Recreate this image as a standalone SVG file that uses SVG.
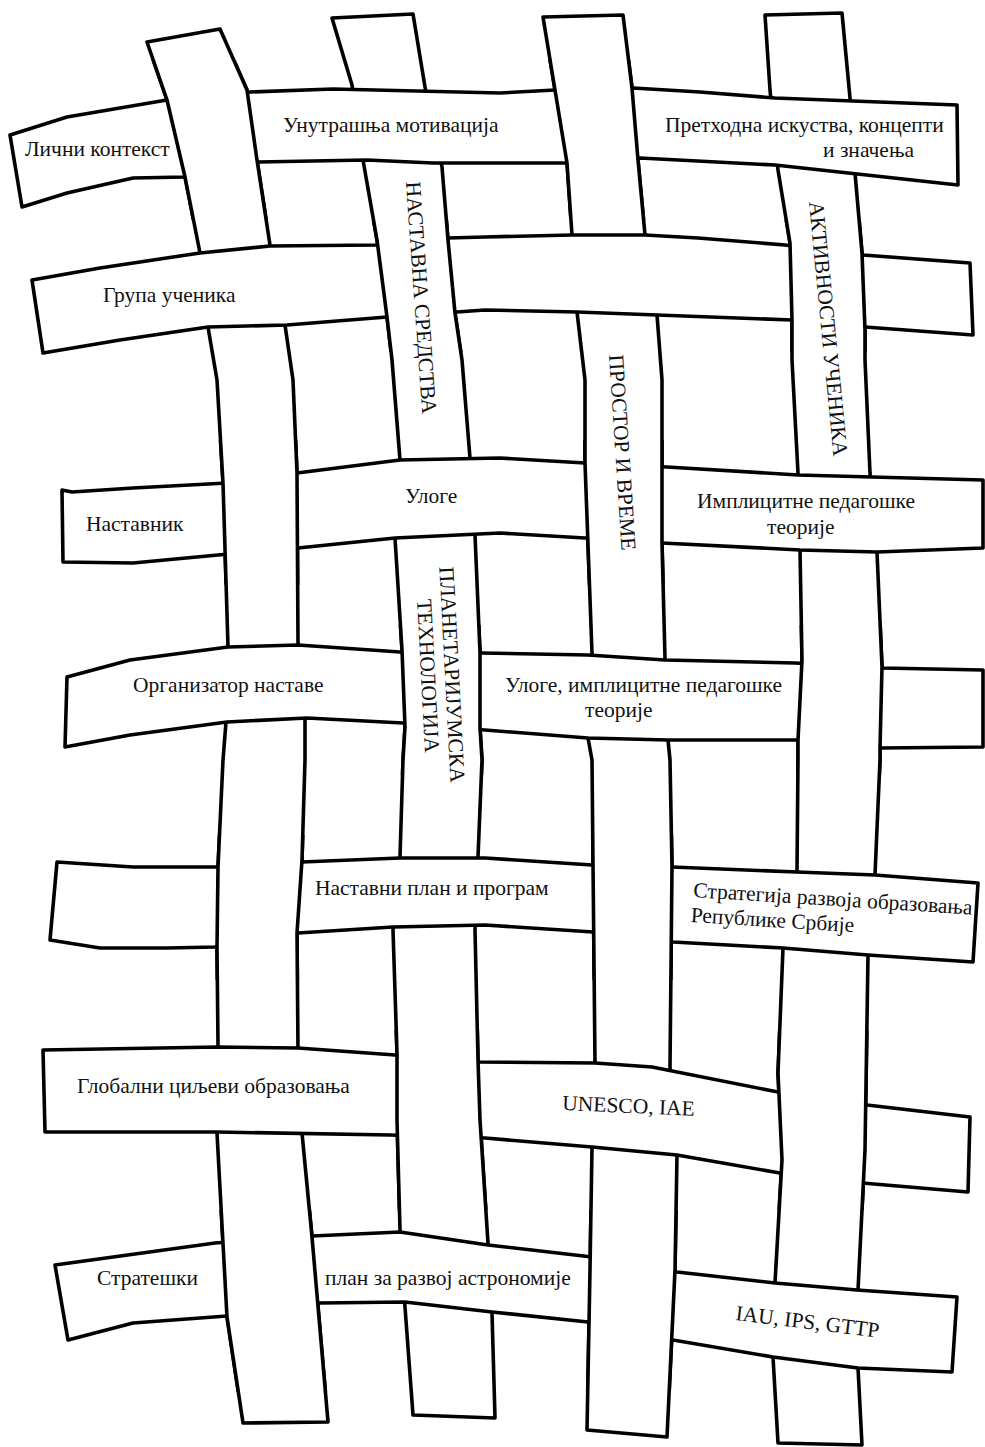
<svg xmlns="http://www.w3.org/2000/svg" xmlns:xlink="http://www.w3.org/1999/xlink" width="985" height="1447" viewBox="0 0 985 1447">
<style>
.strip{fill:#fff;stroke:#000;stroke-width:3.6;stroke-linejoin:round;stroke-linecap:round}
.lbl{font-family:"Liberation Serif","Times New Roman",serif;font-size:21.5px;fill:#111}
.vl{font-family:"Liberation Serif","Times New Roman",serif;font-size:21.5px;fill:#111}
</style>
<defs>
<polygon id="v1" class="strip" points="147,42 167,100 185,177 200,253 208,327 217,380 223,483 228,647 226,722 223,760 218,867 217,947 218,1045 217,1133 227,1317 243,1423 328,1422 312,1237 302,1133 298,1050 297,933 302,860 305,760 305,718 298,643 297,473 293,380 285,325 270,245 257,160 247,90 220,29"/>
<polygon id="v2" class="strip" points="332,18 352,85 363,160 377,240 387,317 392,360 400,460 395,538 402,650 405,727 403,760 400,857 393,930 397,1053 397,1120 400,1230 405,1307 413,1415 495,1418 492,1313 488,1243 480,1120 478,1060 475,930 478,857 482,760 480,728 480,653 475,535 470,458 462,360 455,313 448,240 442,167 425,87 413,14"/>
<polygon id="v3" class="strip" points="543,17 555,90 567,163 572,235 577,312 585,380 585,463 592,653 588,738 592,760 593,863 595,1063 592,1147 590,1270 587,1430 667,1437 675,1270 677,1155 670,1067 672,867 670,760 668,740 665,658 662,543 662,380 657,315 645,235 638,160 632,88 623,15"/>
<polygon id="v4" class="strip" points="765,15 770,90 778,170 790,243 792,320 792,360 798,473 800,550 802,660 798,740 798,760 797,870 783,948 778,1073 782,1160 775,1283 773,1357 778,1443 862,1445 858,1368 858,1290 865,1150 868,955 875,875 880,760 880,748 882,667 877,552 870,473 865,360 865,330 862,253 855,173 850,98 842,13"/>
<clipPath id="oddRows">
<rect x="0" y="60" width="985" height="160"/>
<rect x="0" y="440" width="985" height="145"/>
<rect x="0" y="835" width="985" height="145"/>
<rect x="0" y="1210" width="985" height="182"/>
</clipPath>
<clipPath id="evenRows">
<rect x="0" y="220" width="985" height="132"/>
<rect x="0" y="625" width="985" height="150"/>
<rect x="0" y="1030" width="985" height="180"/>
</clipPath>
</defs>

<g id="vertical-strips">
<g id="strip-col-1"><use href="#v1"/></g>
<g id="strip-nastavna-sredstva"><use href="#v2"/></g>
<g id="strip-prostor-i-vreme"><use href="#v3"/></g>
<g id="strip-aktivnosti-ucenika"><use href="#v4"/></g>
</g>

<g id="horizontal-strips">
<g id="row-licni-kontekst"><polygon class="strip" points="10,135 67,117 167,100 250,92 333,89 500,93 555,90 633,88 700,92 775,98 957,105 958,185 775,165 640,158 567,163 500,163 433,163 367,160 258,162 185,177 133,178 67,193 22,207"/></g>
<g id="row-grupa-ucenika"><polygon class="strip" points="32,280 100,268 200,253 270,246 377,245 448,238 485,237 572,235 645,235 698,238 785,245 863,255 970,263 973,335 865,327 792,320 657,315 577,312 485,310 457,312 387,317 287,325 208,327 120,340 43,353"/></g>
<g id="row-nastavnik"><polygon class="strip" points="62,490 72,492 133,488 227,483 297,473 400,460 500,458 585,463 667,467 798,475 983,480 983,548 877,552 800,550 662,543 585,538 500,533 395,538 298,548 218,555 133,563 63,562"/></g>
<g id="row-organizator"><polygon class="strip" points="67,677 130,660 228,647 298,645 400,652 482,653 588,655 665,660 795,663 882,668 983,670 983,747 880,748 798,740 668,740 588,738 485,730 403,723 307,718 227,722 130,735 65,747"/></g>
<g id="row-nastavni-plan"><polygon class="strip" points="57,862 133,867 218,867 302,862 400,858 485,858 592,865 672,867 797,872 875,875 978,883 973,962 868,955 783,948 673,942 593,932 485,925 393,927 298,933 215,947 167,948 100,948 50,940"/></g>
<g id="row-globalni-ciljevi"><polygon class="strip" points="43,1050 218,1047 298,1048 395,1055 480,1062 595,1063 652,1067 778,1092 867,1105 970,1117 968,1192 862,1183 780,1173 677,1155 592,1147 485,1138 390,1135 217,1132 45,1132"/></g>
<g id="row-strateski-plan"><polygon class="strip" points="55,1265 215,1243 312,1236 400,1232 488,1245 592,1257 677,1272 775,1283 857,1290 957,1297 952,1372 858,1368 773,1357 673,1340 588,1322 492,1312 405,1302 320,1303 227,1316 133,1323 68,1340"/></g>
</g>

<g id="crossings">
<use href="#v1" clip-path="url(#oddRows)"/>
<use href="#v3" clip-path="url(#oddRows)"/>
<use href="#v2" clip-path="url(#evenRows)"/>
<use href="#v4" clip-path="url(#evenRows)"/>
</g>

<g id="labels">
<text id="t-licni" class="lbl" x="25" y="156">Лични контекст</text>
<text id="t-unutrasnja" class="lbl" x="283" y="132">Унутрашња мотивација</text>
<text id="t-prethodna" class="lbl"><tspan x="665" y="132">Претходна искуства, концепти</tspan><tspan x="823" y="157">и значења</tspan></text>
<text id="t-grupa" class="lbl" x="103" y="302">Група ученика</text>
<text id="t-nastavnik" class="lbl" x="86" y="531">Наставник</text>
<text id="t-uloge" class="lbl" x="405" y="503">Улоге</text>
<text id="t-implicitne" class="lbl"><tspan x="697" y="508">Имплицитне педагошке</tspan><tspan x="767" y="534">теорије</tspan></text>
<text id="t-organizator" class="lbl" x="133" y="692">Организатор наставе</text>
<text id="t-uloge2" class="lbl"><tspan x="505" y="692">Улоге, имплицитне педагошке</tspan><tspan x="585" y="717">теорије</tspan></text>
<text id="t-nastavni-plan" class="lbl" x="315" y="895">Наставни план и програм</text>
<text id="t-strategija" class="lbl" transform="rotate(3.6 693 897)"><tspan x="693" y="897">Стратегија развоја образовања</tspan><tspan x="692" y="922">Републике Србије</tspan></text>
<text id="t-globalni" class="lbl" x="77" y="1093">Глобални циљеви образовања</text>
<text id="t-unesco" class="lbl" transform="rotate(2.5 562 1110)" x="562" y="1110">UNESCO, IAE</text>
<text id="t-strateski" class="lbl" x="97" y="1285">Стратешки</text>
<text id="t-plan-astro" class="lbl" x="325" y="1285">план за развој астрономије</text>
<text id="t-iau" class="lbl" transform="rotate(7 735 1320)" x="735" y="1320">IAU, IPS, GTTP</text>

<text id="t-nastavna-sredstva" class="vl" transform="translate(406,182) rotate(86)">НАСТАВНА СРЕДСТВА</text>
<text id="t-aktivnosti" class="vl" transform="translate(809,202) rotate(84.5)">АКТИВНОСТИ УЧЕНИКА</text>
<text id="t-prostor" class="vl" transform="translate(609,355) rotate(86.3)">ПРОСТОР И ВРЕМЕ</text>
<text id="t-planetarijumska" class="vl" text-anchor="middle" transform="translate(445,675) rotate(87)"><tspan x="0" y="0">ПЛАНЕТАРИЈУМСКА</tspan><tspan x="0" y="24">ТЕХНОЛОГИЈА</tspan></text>
</g>
</svg>
